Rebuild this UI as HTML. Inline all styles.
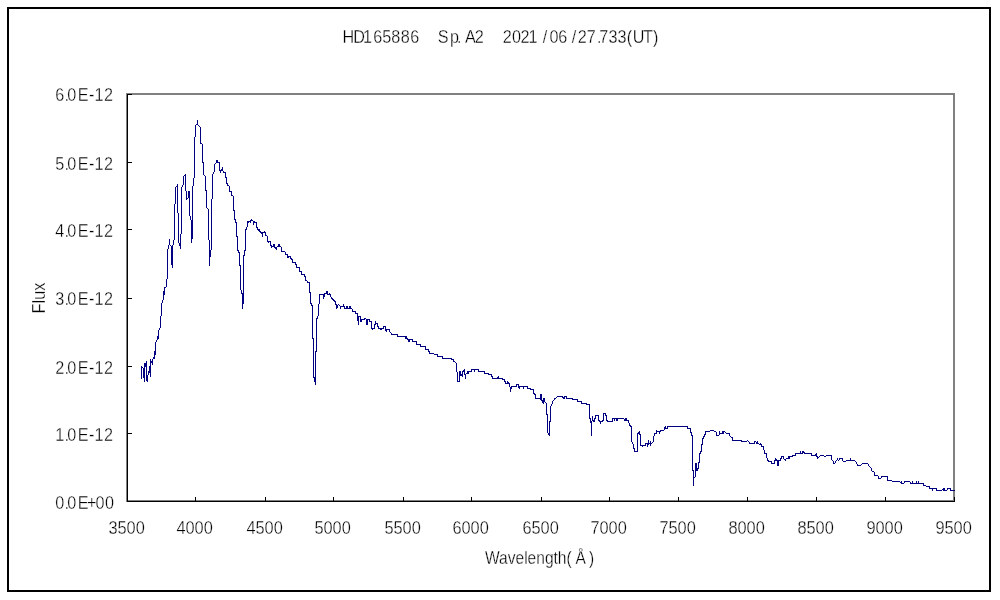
<!DOCTYPE html>
<html lang="en"><head><meta charset="utf-8"><title>HD165886 Sp. A2 2021/06/27.733(UT)</title>
<style>html,body{margin:0;padding:0;background:#fff;}body{width:1000px;height:600px;overflow:hidden;}svg{display:block;}text{font-family:"Liberation Sans", "IPAGothic", sans-serif;font-size:18px;fill:#000;stroke:#fff;stroke-width:0.33px;}</style></head><body>
<svg width="1000" height="600" viewBox="0 0 1000 600">
<rect x="0" y="0" width="1000" height="600" fill="#ffffff"/>
<rect x="8" y="8" width="982" height="583" fill="none" stroke="#000" stroke-width="2" shape-rendering="crispEdges"/>
<g shape-rendering="crispEdges">
<rect x="127" y="94" width="827" height="407" fill="none" stroke="#808080" stroke-width="2"/>
<rect x="127" y="94" width="1" height="408" fill="#000"/>
<rect x="127" y="501" width="828" height="1" fill="#000"/>
<rect x="127" y="501" width="5" height="1" fill="#000"/>
<rect x="127" y="433" width="5" height="1" fill="#000"/>
<rect x="127" y="366" width="5" height="1" fill="#000"/>
<rect x="127" y="298" width="5" height="1" fill="#000"/>
<rect x="127" y="229" width="5" height="1" fill="#000"/>
<rect x="127" y="162" width="5" height="1" fill="#000"/>
<rect x="127" y="94" width="5" height="1" fill="#000"/>
<rect x="127" y="497" width="1" height="5" fill="#000"/>
<rect x="195" y="497" width="1" height="5" fill="#000"/>
<rect x="265" y="497" width="1" height="5" fill="#000"/>
<rect x="333" y="497" width="1" height="5" fill="#000"/>
<rect x="403" y="497" width="1" height="5" fill="#000"/>
<rect x="471" y="497" width="1" height="5" fill="#000"/>
<rect x="541" y="497" width="1" height="5" fill="#000"/>
<rect x="609" y="497" width="1" height="5" fill="#000"/>
<rect x="678" y="497" width="1" height="5" fill="#000"/>
<rect x="747" y="497" width="1" height="5" fill="#000"/>
<rect x="816" y="497" width="1" height="5" fill="#000"/>
<rect x="885" y="497" width="1" height="5" fill="#000"/>
<rect x="954" y="497" width="1" height="5" fill="#000"/>
</g>
<path d="M141,366h1v13h-1zM142,367h1v1h-1zM143,368h1v10h-1zM144,363h1v19h-1zM145,363h1v4h-1zM146,361h1v20h-1zM147,375h1v7h-1zM148,371h1v4h-1zM149,366h1v7h-1zM150,359h1v18h-1zM151,361h1v2h-1zM152,359h1v6h-1zM153,357h1v2h-1zM154,351h1v8h-1zM155,342h1v13h-1zM156,340h1v2h-1zM157,336h1v4h-1zM158,330h1v9h-1zM159,328h1v2h-1zM160,316h1v12h-1zM161,303h1v13h-1zM162,300h1v3h-1zM163,291h1v9h-1zM164,287h1v8h-1zM165,287h1v1h-1zM166,279h1v8h-1zM167,249h1v30h-1zM168,245h1v4h-1zM169,239h1v6h-1zM170,245h1v1h-1zM171,246h1v19h-1zM172,245h1v23h-1zM173,240h1v5h-1zM174,204h1v36h-1zM175,187h1v17h-1zM176,186h1v1h-1zM177,184h1v29h-1zM178,213h1v30h-1zM179,243h1v3h-1zM180,234h1v15h-1zM181,187h1v47h-1zM182,185h1v2h-1zM183,176h1v9h-1zM184,175h1v1h-1zM185,174h1v17h-1zM186,191h1v9h-1zM187,198h1v1h-1zM188,191h1v7h-1zM189,191h1v25h-1zM190,216h1v4h-1zM191,220h1v23h-1zM192,186h1v53h-1zM193,178h1v8h-1zM194,137h1v41h-1zM195,125h1v12h-1zM196,124h1v1h-1zM197,120h1v5h-1zM198,125h1v1h-1zM199,126h1v1h-1zM200,127h1v17h-1zM201,143h1v1h-1zM202,144h1v19h-1zM203,162h1v13h-1zM204,175h1v1h-1zM205,176h1v15h-1zM206,190h1v18h-1zM207,208h1v1h-1zM208,209h1v31h-1zM209,240h1v26h-1zM210,250h1v7h-1zM211,199h1v51h-1zM212,174h1v25h-1zM213,172h1v2h-1zM214,164h1v8h-1zM215,163h1v1h-1zM216,160h1v3h-1zM217,160h1v3h-1zM218,162h1v1h-1zM219,162h1v9h-1zM220,170h1v3h-1zM221,169h1v2h-1zM222,167h1v4h-1zM223,171h1v2h-1zM224,172h1v1h-1zM225,172h1v6h-1zM226,177h1v7h-1zM227,183h1v3h-1zM228,185h1v1h-1zM229,186h1v6h-1zM230,191h1v1h-1zM231,191h1v5h-1zM232,195h1v1h-1zM233,196h1v15h-1zM234,210h1v10h-1zM235,219h1v4h-1zM236,222h1v15h-1zM237,236h1v15h-1zM238,250h1v3h-1zM239,252h1v14h-1zM240,265h1v25h-1zM241,290h1v4h-1zM242,293h1v16h-1zM243,255h1v49h-1zM244,250h1v6h-1zM245,229h1v22h-1zM246,227h1v3h-1zM247,221h1v6h-1zM248,221h1v2h-1zM249,221h1v1h-1zM250,220h1v3h-1zM251,219h1v2h-1zM252,220h1v1h-1zM253,221h1v4h-1zM254,221h1v2h-1zM255,222h1v1h-1zM256,222h1v6h-1zM257,227h1v3h-1zM258,229h1v2h-1zM259,229h1v3h-1zM260,231h1v2h-1zM261,232h1v2h-1zM262,232h1v5h-1zM263,232h1v1h-1zM264,231h1v2h-1zM265,232h1v4h-1zM266,235h1v1h-1zM267,236h1v6h-1zM268,241h1v2h-1zM269,241h1v1h-1zM270,241h1v5h-1zM271,245h1v3h-1zM272,246h1v1h-1zM273,244h1v3h-1zM274,244h1v4h-1zM275,247h1v2h-1zM276,247h1v3h-1zM277,246h1v1h-1zM278,244h1v3h-1zM279,244h1v3h-1zM280,246h1v1h-1zM281,247h1v5h-1zM282,251h1v1h-1zM283,251h1v1h-1zM284,251h1v1h-1zM285,252h1v3h-1zM286,254h1v1h-1zM287,254h1v4h-1zM288,256h1v2h-1zM289,256h1v1h-1zM290,256h1v3h-1zM291,258h1v2h-1zM292,259h1v4h-1zM293,262h1v1h-1zM294,262h1v1h-1zM295,262h1v3h-1zM296,264h1v4h-1zM297,267h1v1h-1zM298,267h1v1h-1zM299,267h1v5h-1zM300,271h1v1h-1zM301,271h1v4h-1zM302,274h1v1h-1zM303,274h1v1h-1zM304,274h1v3h-1zM305,276h1v5h-1zM306,280h1v1h-1zM307,281h1v2h-1zM308,282h1v1h-1zM309,282h1v11h-1zM310,292h1v12h-1zM311,303h1v3h-1zM312,305h1v34h-1zM313,338h1v40h-1zM314,377h1v5h-1zM315,351h1v34h-1zM316,318h1v34h-1zM317,316h1v3h-1zM318,304h1v12h-1zM319,294h1v10h-1zM320,294h1v1h-1zM321,294h1v1h-1zM322,294h1v1h-1zM323,294h1v5h-1zM324,293h1v4h-1zM325,293h1v1h-1zM326,291h1v3h-1zM327,291h1v4h-1zM328,294h1v1h-1zM329,293h1v2h-1zM330,294h1v3h-1zM331,297h1v2h-1zM332,298h1v2h-1zM333,299h1v2h-1zM334,300h1v2h-1zM335,301h1v4h-1zM336,304h1v5h-1zM337,305h1v3h-1zM338,304h1v1h-1zM339,305h1v1h-1zM340,306h1v3h-1zM341,306h1v1h-1zM342,306h1v1h-1zM343,304h1v3h-1zM344,306h1v3h-1zM345,308h1v1h-1zM346,306h1v3h-1zM347,306h1v3h-1zM348,308h1v1h-1zM349,306h1v3h-1zM350,306h1v3h-1zM351,308h1v1h-1zM352,309h1v3h-1zM353,311h1v1h-1zM354,311h1v1h-1zM355,311h1v3h-1zM356,313h1v1h-1zM357,313h1v8h-1zM358,316h1v9h-1zM359,316h1v1h-1zM360,316h1v6h-1zM361,319h1v3h-1zM362,319h1v1h-1zM363,319h1v1h-1zM364,318h1v2h-1zM365,318h1v1h-1zM366,319h1v6h-1zM367,319h1v6h-1zM368,319h1v1h-1zM369,319h1v3h-1zM370,321h1v1h-1zM371,321h1v8h-1zM372,328h1v2h-1zM373,328h1v1h-1zM374,324h1v5h-1zM375,321h1v4h-1zM376,323h1v1h-1zM377,323h1v4h-1zM378,326h1v3h-1zM379,328h1v1h-1zM380,328h1v2h-1zM381,328h1v2h-1zM382,328h1v1h-1zM383,326h1v3h-1zM384,326h1v1h-1zM385,326h1v5h-1zM386,329h1v3h-1zM387,329h1v1h-1zM388,329h1v1h-1zM389,329h1v3h-1zM390,332h1v1h-1zM391,333h1v2h-1zM392,334h1v1h-1zM393,334h1v1h-1zM394,334h1v1h-1zM395,334h1v1h-1zM396,334h1v1h-1zM397,334h1v3h-1zM398,336h1v1h-1zM399,336h1v1h-1zM400,336h1v1h-1zM401,336h1v1h-1zM402,336h1v1h-1zM403,336h1v1h-1zM404,336h1v1h-1zM405,336h1v3h-1zM406,336h1v3h-1zM407,338h1v2h-1zM408,339h1v3h-1zM409,339h1v3h-1zM410,339h1v1h-1zM411,339h1v1h-1zM412,339h1v3h-1zM413,341h1v1h-1zM414,341h1v1h-1zM415,341h1v1h-1zM416,341h1v4h-1zM417,344h1v1h-1zM418,344h1v1h-1zM419,344h1v1h-1zM420,344h1v3h-1zM421,346h1v1h-1zM422,346h1v1h-1zM423,346h1v1h-1zM424,346h1v1h-1zM425,346h1v4h-1zM426,349h1v1h-1zM427,349h1v1h-1zM428,349h1v3h-1zM429,351h1v3h-1zM430,353h1v1h-1zM431,353h1v1h-1zM432,353h1v1h-1zM433,353h1v1h-1zM434,354h1v1h-1zM435,354h1v1h-1zM436,354h1v1h-1zM437,354h1v3h-1zM438,356h1v1h-1zM439,356h1v1h-1zM440,356h1v1h-1zM441,356h1v1h-1zM442,356h1v3h-1zM443,358h1v1h-1zM444,358h1v1h-1zM445,358h1v1h-1zM446,358h1v1h-1zM447,358h1v1h-1zM448,358h1v1h-1zM449,358h1v1h-1zM450,358h1v1h-1zM451,358h1v2h-1zM452,359h1v1h-1zM453,359h1v3h-1zM454,361h1v1h-1zM455,362h1v1h-1zM456,363h1v9h-1zM457,372h1v10h-1zM458,381h1v1h-1zM459,371h1v11h-1zM460,371h1v5h-1zM461,374h1v2h-1zM462,371h1v6h-1zM463,370h1v2h-1zM464,369h1v6h-1zM465,374h1v5h-1zM466,373h1v1h-1zM467,371h1v3h-1zM468,371h1v3h-1zM469,371h1v1h-1zM470,371h1v1h-1zM471,369h1v3h-1zM472,369h1v1h-1zM473,369h1v1h-1zM474,369h1v3h-1zM475,369h1v1h-1zM476,369h1v1h-1zM477,369h1v1h-1zM478,369h1v3h-1zM479,371h1v1h-1zM480,371h1v1h-1zM481,371h1v1h-1zM482,371h1v1h-1zM483,371h1v1h-1zM484,371h1v3h-1zM485,373h1v1h-1zM486,373h1v1h-1zM487,373h1v1h-1zM488,373h1v2h-1zM489,374h1v1h-1zM490,374h1v1h-1zM491,374h1v3h-1zM492,376h1v3h-1zM493,378h1v1h-1zM494,378h1v1h-1zM495,378h1v1h-1zM496,378h1v1h-1zM497,377h1v2h-1zM498,376h1v3h-1zM499,378h1v1h-1zM500,378h1v1h-1zM501,378h1v1h-1zM502,378h1v2h-1zM503,379h1v1h-1zM504,379h1v3h-1zM505,381h1v3h-1zM506,383h1v1h-1zM507,381h1v3h-1zM508,382h1v2h-1zM509,383h1v4h-1zM510,387h1v5h-1zM511,386h1v3h-1zM512,386h1v1h-1zM513,386h1v1h-1zM514,386h1v1h-1zM515,386h1v1h-1zM516,384h1v3h-1zM517,384h1v1h-1zM518,384h1v4h-1zM519,386h1v3h-1zM520,386h1v1h-1zM521,386h1v1h-1zM522,386h1v1h-1zM523,386h1v3h-1zM524,386h1v1h-1zM525,386h1v1h-1zM526,386h1v1h-1zM527,386h1v3h-1zM528,388h1v1h-1zM529,388h1v1h-1zM530,388h1v2h-1zM531,389h1v1h-1zM532,389h1v1h-1zM533,389h1v5h-1zM534,393h1v2h-1zM535,394h1v5h-1zM536,398h1v1h-1zM537,398h1v1h-1zM538,398h1v1h-1zM539,398h1v1h-1zM540,394h1v6h-1zM541,394h1v7h-1zM542,400h1v3h-1zM543,398h1v6h-1zM544,398h1v4h-1zM545,402h1v1h-1zM546,403h1v12h-1zM547,414h1v19h-1zM548,433h1v2h-1zM549,421h1v15h-1zM550,406h1v16h-1zM551,404h1v2h-1zM552,401h1v3h-1zM553,400h1v1h-1zM554,398h1v2h-1zM555,398h1v1h-1zM556,397h1v1h-1zM557,396h1v1h-1zM558,396h1v1h-1zM559,396h1v1h-1zM560,396h1v1h-1zM561,396h1v1h-1zM562,396h1v2h-1zM563,397h1v2h-1zM564,396h1v3h-1zM565,396h1v1h-1zM566,396h1v3h-1zM567,398h1v1h-1zM568,398h1v1h-1zM569,398h1v1h-1zM570,398h1v1h-1zM571,398h1v1h-1zM572,398h1v2h-1zM573,399h1v1h-1zM574,399h1v1h-1zM575,399h1v1h-1zM576,399h1v1h-1zM577,399h1v3h-1zM578,401h1v1h-1zM579,401h1v1h-1zM580,401h1v1h-1zM581,401h1v3h-1zM582,403h1v1h-1zM583,403h1v1h-1zM584,403h1v1h-1zM585,403h1v1h-1zM586,403h1v2h-1zM587,404h1v1h-1zM588,404h1v1h-1zM589,404h1v15h-1zM590,418h1v5h-1zM591,421h1v15h-1zM592,416h1v5h-1zM593,420h1v2h-1zM594,418h1v4h-1zM595,415h1v4h-1zM596,415h1v1h-1zM597,415h1v1h-1zM598,415h1v6h-1zM599,420h1v2h-1zM600,421h1v3h-1zM601,421h1v1h-1zM602,420h1v2h-1zM603,413h1v8h-1zM604,413h1v1h-1zM605,413h1v3h-1zM606,415h1v6h-1zM607,420h1v2h-1zM608,421h1v1h-1zM609,421h1v1h-1zM610,421h1v1h-1zM611,421h1v1h-1zM612,418h1v4h-1zM613,418h1v1h-1zM614,418h1v3h-1zM615,418h1v1h-1zM616,418h1v3h-1zM617,418h1v3h-1zM618,418h1v1h-1zM619,418h1v1h-1zM620,418h1v1h-1zM621,418h1v1h-1zM622,418h1v1h-1zM623,418h1v1h-1zM624,419h1v2h-1zM625,418h1v3h-1zM626,418h1v3h-1zM627,420h1v1h-1zM628,420h1v3h-1zM629,423h1v3h-1zM630,425h1v2h-1zM631,426h1v16h-1zM632,442h1v2h-1zM633,444h1v5h-1zM634,448h1v4h-1zM635,451h1v1h-1zM636,451h1v1h-1zM637,433h1v19h-1zM638,432h1v2h-1zM639,431h1v4h-1zM640,434h1v12h-1zM641,445h1v1h-1zM642,445h1v2h-1zM643,445h1v1h-1zM644,445h1v1h-1zM645,443h1v3h-1zM646,443h1v1h-1zM647,443h1v4h-1zM648,440h1v5h-1zM649,443h1v1h-1zM650,441h1v5h-1zM651,443h1v1h-1zM652,442h1v1h-1zM653,436h1v6h-1zM654,433h1v3h-1zM655,433h1v1h-1zM656,430h1v4h-1zM657,431h1v1h-1zM658,431h1v1h-1zM659,431h1v3h-1zM660,430h1v2h-1zM661,430h1v1h-1zM662,430h1v1h-1zM663,430h1v1h-1zM664,427h1v3h-1zM665,426h1v3h-1zM666,428h1v1h-1zM667,426h1v3h-1zM668,426h1v1h-1zM669,426h1v1h-1zM670,426h1v1h-1zM671,426h1v1h-1zM672,426h1v1h-1zM673,426h1v1h-1zM674,426h1v1h-1zM675,426h1v1h-1zM676,426h1v1h-1zM677,426h1v1h-1zM678,426h1v1h-1zM679,426h1v1h-1zM680,426h1v1h-1zM681,426h1v1h-1zM682,426h1v1h-1zM683,426h1v1h-1zM684,426h1v1h-1zM685,426h1v1h-1zM686,426h1v1h-1zM687,426h1v3h-1zM688,428h1v1h-1zM689,428h1v1h-1zM690,428h1v5h-1zM691,432h1v4h-1zM692,435h1v36h-1zM693,470h1v16h-1zM694,477h1v1h-1zM695,463h1v14h-1zM696,463h1v8h-1zM697,468h1v3h-1zM698,462h1v7h-1zM699,453h1v10h-1zM700,451h1v3h-1zM701,444h1v8h-1zM702,438h1v7h-1zM703,436h1v3h-1zM704,434h1v3h-1zM705,431h1v4h-1zM706,431h1v1h-1zM707,431h1v1h-1zM708,431h1v1h-1zM709,431h1v1h-1zM710,430h1v1h-1zM711,430h1v1h-1zM712,430h1v1h-1zM713,430h1v1h-1zM714,431h1v1h-1zM715,431h1v1h-1zM716,432h1v4h-1zM717,435h1v1h-1zM718,435h1v1h-1zM719,431h1v4h-1zM720,433h1v1h-1zM721,433h1v1h-1zM722,431h1v3h-1zM723,431h1v3h-1zM724,431h1v1h-1zM725,432h1v1h-1zM726,433h1v1h-1zM727,433h1v1h-1zM728,433h1v1h-1zM729,433h1v3h-1zM730,436h1v1h-1zM731,437h1v1h-1zM732,437h1v4h-1zM733,440h1v1h-1zM734,440h1v1h-1zM735,440h1v1h-1zM736,440h1v1h-1zM737,440h1v1h-1zM738,440h1v1h-1zM739,440h1v1h-1zM740,440h1v1h-1zM741,440h1v2h-1zM742,441h1v1h-1zM743,441h1v1h-1zM744,441h1v1h-1zM745,441h1v1h-1zM746,441h1v1h-1zM747,440h1v1h-1zM748,441h1v1h-1zM749,442h1v2h-1zM750,443h1v1h-1zM751,443h1v1h-1zM752,443h1v1h-1zM753,443h1v1h-1zM754,441h1v3h-1zM755,441h1v1h-1zM756,442h1v2h-1zM757,441h1v3h-1zM758,443h1v1h-1zM759,444h1v1h-1zM760,443h1v2h-1zM761,444h1v3h-1zM762,446h1v1h-1zM763,446h1v4h-1zM764,450h1v4h-1zM765,453h1v1h-1zM766,453h1v5h-1zM767,458h1v3h-1zM768,460h1v2h-1zM769,461h1v1h-1zM770,461h1v1h-1zM771,461h1v3h-1zM772,463h1v1h-1zM773,463h1v1h-1zM774,460h1v4h-1zM775,458h1v3h-1zM776,459h1v2h-1zM777,460h1v6h-1zM778,460h1v6h-1zM779,460h1v1h-1zM780,458h1v3h-1zM781,456h1v3h-1zM782,456h1v1h-1zM783,456h1v3h-1zM784,459h1v1h-1zM785,459h1v2h-1zM786,458h1v1h-1zM787,458h1v1h-1zM788,456h1v3h-1zM789,456h1v3h-1zM790,456h1v1h-1zM791,456h1v1h-1zM792,455h1v2h-1zM793,455h1v1h-1zM794,455h1v1h-1zM795,453h1v3h-1zM796,453h1v1h-1zM797,453h1v1h-1zM798,453h1v1h-1zM799,453h1v1h-1zM800,451h1v3h-1zM801,453h1v1h-1zM802,451h1v3h-1zM803,451h1v2h-1zM804,452h1v2h-1zM805,453h1v1h-1zM806,453h1v1h-1zM807,453h1v1h-1zM808,453h1v1h-1zM809,453h1v1h-1zM810,453h1v1h-1zM811,453h1v3h-1zM812,455h1v1h-1zM813,455h1v1h-1zM814,455h1v1h-1zM815,454h1v2h-1zM816,453h1v4h-1zM817,456h1v3h-1zM818,457h1v1h-1zM819,456h1v1h-1zM820,455h1v1h-1zM821,455h1v1h-1zM822,455h1v1h-1zM823,455h1v1h-1zM824,456h1v1h-1zM825,456h1v1h-1zM826,455h1v1h-1zM827,455h1v1h-1zM828,455h1v1h-1zM829,455h1v1h-1zM830,455h1v1h-1zM831,455h1v5h-1zM832,460h1v1h-1zM833,461h1v3h-1zM834,463h1v1h-1zM835,461h1v2h-1zM836,460h1v1h-1zM837,458h1v2h-1zM838,460h1v1h-1zM839,458h1v2h-1zM840,458h1v1h-1zM841,458h1v1h-1zM842,458h1v3h-1zM843,461h1v1h-1zM844,461h1v1h-1zM845,461h1v1h-1zM846,460h1v1h-1zM847,460h1v1h-1zM848,460h1v1h-1zM849,460h1v1h-1zM850,458h1v3h-1zM851,460h1v1h-1zM852,460h1v1h-1zM853,460h1v1h-1zM854,460h1v1h-1zM855,461h1v1h-1zM856,462h1v2h-1zM857,464h1v2h-1zM858,465h1v1h-1zM859,465h1v1h-1zM860,465h1v1h-1zM861,464h1v1h-1zM862,463h1v1h-1zM863,463h1v1h-1zM864,463h1v1h-1zM865,463h1v1h-1zM866,463h1v1h-1zM867,463h1v1h-1zM868,464h1v2h-1zM869,466h1v1h-1zM870,467h1v1h-1zM871,468h1v3h-1zM872,471h1v1h-1zM873,471h1v1h-1zM874,472h1v4h-1zM875,475h1v1h-1zM876,475h1v1h-1zM877,475h1v1h-1zM878,476h1v3h-1zM879,478h1v1h-1zM880,478h1v1h-1zM881,476h1v2h-1zM882,476h1v1h-1zM883,476h1v1h-1zM884,476h1v1h-1zM885,476h1v1h-1zM886,476h1v1h-1zM887,476h1v5h-1zM888,480h1v1h-1zM889,480h1v1h-1zM890,480h1v1h-1zM891,480h1v1h-1zM892,481h1v1h-1zM893,481h1v1h-1zM894,481h1v1h-1zM895,481h1v1h-1zM896,481h1v1h-1zM897,481h1v1h-1zM898,481h1v1h-1zM899,481h1v1h-1zM900,482h1v1h-1zM901,481h1v3h-1zM902,483h1v1h-1zM903,483h1v1h-1zM904,481h1v2h-1zM905,481h1v1h-1zM906,481h1v1h-1zM907,481h1v1h-1zM908,481h1v1h-1zM909,481h1v1h-1zM910,482h1v2h-1zM911,483h1v1h-1zM912,481h1v3h-1zM913,483h1v1h-1zM914,483h1v1h-1zM915,483h1v1h-1zM916,481h1v3h-1zM917,483h1v1h-1zM918,481h1v3h-1zM919,483h1v1h-1zM920,483h1v1h-1zM921,483h1v1h-1zM922,483h1v1h-1zM923,483h1v3h-1zM924,485h1v1h-1zM925,485h1v1h-1zM926,486h1v1h-1zM927,486h1v1h-1zM928,486h1v1h-1zM929,486h1v3h-1zM930,488h1v1h-1zM931,488h1v1h-1zM932,488h1v3h-1zM933,488h1v1h-1zM934,488h1v1h-1zM935,488h1v1h-1zM936,488h1v3h-1zM937,490h1v1h-1zM938,490h1v1h-1zM939,490h1v1h-1zM940,490h1v1h-1zM941,490h1v1h-1zM942,489h1v1h-1zM943,488h1v3h-1zM944,488h1v3h-1zM945,490h1v1h-1zM946,490h1v1h-1zM947,488h1v2h-1zM948,488h1v1h-1zM949,488h1v1h-1zM950,488h1v3h-1zM951,490h1v1h-1zM952,490h1v1h-1zM953,490h1v1h-1zM954,490h1v1h-1z" fill="#000080" shape-rendering="crispEdges"/>
<text transform="scale(0.9,1)" x="380.56 392.44 403.33 414.67 424.83 434.78 445.33 455.78 466.67 486.44 500.00 507.78 511.11 516.67 527.44 538.89 558.67 568.89 578.44 587.22 603.06 610.44 620.22 635.28 641.89 651.89 663.33 665.78 676.00 686.00 696.44 703.06 714.56 725.44" y="43">HD165886 Sp. A2 2021/06/27.733(UT)</text>
<text transform="scale(0.9,1)" x="61.33 71.78 74.67 86.33 96.67 106.00 116.56" y="509">0.0E+00</text>
<text transform="scale(0.9,1)" x="61.33 71.78 74.67 86.33 99.00 105.00 115.67" y="441">1.0E-12</text>
<text transform="scale(0.9,1)" x="61.33 71.78 74.67 86.33 99.00 105.00 115.67" y="374">2.0E-12</text>
<text transform="scale(0.9,1)" x="61.33 71.78 74.67 86.33 99.00 105.00 115.67" y="305">3.0E-12</text>
<text transform="scale(0.9,1)" x="61.33 71.78 74.67 86.33 99.00 105.00 115.67" y="237">4.0E-12</text>
<text transform="scale(0.9,1)" x="61.33 71.78 74.67 86.33 99.00 105.00 115.67" y="170">5.0E-12</text>
<text transform="scale(0.9,1)" x="61.33 71.78 74.67 86.33 99.00 105.00 115.67" y="101">6.0E-12</text>
<text x="108.4" y="534" textLength="36.4" lengthAdjust="spacingAndGlyphs">3500</text>
<text x="176.4" y="534" textLength="36.4" lengthAdjust="spacingAndGlyphs">4000</text>
<text x="246.4" y="534" textLength="36.4" lengthAdjust="spacingAndGlyphs">4500</text>
<text x="314.4" y="534" textLength="36.4" lengthAdjust="spacingAndGlyphs">5000</text>
<text x="384.4" y="534" textLength="36.4" lengthAdjust="spacingAndGlyphs">5500</text>
<text x="452.4" y="534" textLength="36.4" lengthAdjust="spacingAndGlyphs">6000</text>
<text x="522.4" y="534" textLength="36.4" lengthAdjust="spacingAndGlyphs">6500</text>
<text x="590.4" y="534" textLength="36.4" lengthAdjust="spacingAndGlyphs">7000</text>
<text x="659.4" y="534" textLength="36.4" lengthAdjust="spacingAndGlyphs">7500</text>
<text x="728.4" y="534" textLength="36.4" lengthAdjust="spacingAndGlyphs">8000</text>
<text x="797.4" y="534" textLength="36.4" lengthAdjust="spacingAndGlyphs">8500</text>
<text x="866.4" y="534" textLength="36.4" lengthAdjust="spacingAndGlyphs">9000</text>
<text x="935.4" y="534" textLength="36.4" lengthAdjust="spacingAndGlyphs">9500</text>
<text transform="scale(0.864,1)" y="564"><tspan x="561.34">Wavelength(</tspan><tspan x="666.20">Å</tspan><tspan x="681.83">)</tspan></text>
<text x="0" y="0" textLength="31" lengthAdjust="spacingAndGlyphs" transform="translate(45,313.5) rotate(-90)">Flux</text>
</svg></body></html>
